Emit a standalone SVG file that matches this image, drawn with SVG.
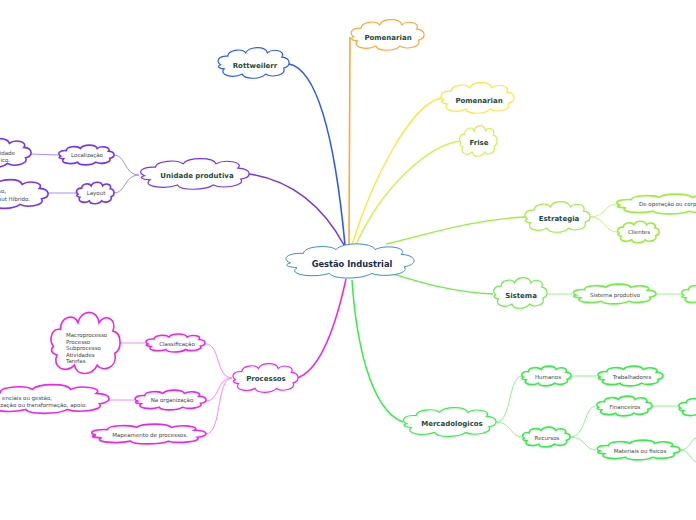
<svg xmlns="http://www.w3.org/2000/svg" xmlns:xlink="http://www.w3.org/1999/xlink" width="696" height="520" viewBox="0 0 696 520">
<style>
.t1{font-family:"DejaVu Sans",Verdana,sans-serif;font-weight:bold;font-size:7px;fill:#1d4a3c;text-anchor:middle}
.t0{font-family:"DejaVu Sans",Verdana,sans-serif;font-weight:bold;font-size:8.3px;fill:#1b2b4f;text-anchor:middle}
.t2{font-family:"DejaVu Sans",Verdana,sans-serif;font-size:5.5px;fill:#444;text-anchor:middle}
.tl{font-family:"DejaVu Sans",Verdana,sans-serif;font-size:5.5px;fill:#444}
.tr{font-family:"DejaVu Sans",Verdana,sans-serif;font-size:5.5px;fill:#444;text-anchor:end}
#conn path{fill:none}
</style>
<defs>
<path id="cl" vector-effect="non-scaling-stroke" fill="#fff" d="M-0.9,0.1 C-1.05,-0.1 -0.95,-0.45 -0.7,-0.4 C-0.7,-0.78 -0.3,-0.88 -0.2,-0.6 C-0.1,-1.0 0.35,-1.0 0.4,-0.6 C0.55,-0.88 0.92,-0.72 0.8,-0.35 C1.06,-0.3 1.06,0.2 0.85,0.3 C0.95,0.72 0.5,0.88 0.35,0.65 C0.2,0.98 -0.25,0.98 -0.3,0.65 C-0.55,0.92 -0.96,0.72 -0.8,0.35 C-0.97,0.3 -1.0,0.2 -0.9,0.1 Z"/>
</defs>
<rect width="696" height="520" fill="#fff"/>
<g id="conn">
<path d="M289,64 C320,70 336,150 345,245" stroke="#2a5cf5" stroke-width="1.6"/>
<path d="M350,37 L349,245" stroke="#ffa733" stroke-width="1.6"/>
<path d="M441,98 C410,105 372,180 352,245" stroke="#ffe53a" stroke-width="1.4"/>
<path d="M460,141 C430,145 382,185 355,247" stroke="#d2f04a" stroke-width="1.4"/>
<path d="M249,174 C290,180 322,205 344,245" stroke="#7733ee" stroke-width="1.5"/>
<path d="M525,217 C470,220 430,234 386,244" stroke="#9cee3a" stroke-width="1.4"/>
<path d="M493,294 C450,292 420,282 393,274" stroke="#6aee44" stroke-width="1.4"/>
<path d="M403,422 C370,410 356,340 352,280" stroke="#33ee44" stroke-width="1.5"/>
<path d="M297,378 C322,370 337,320 346,279" stroke="#ee22ee" stroke-width="1.5"/>
<g stroke="#aa8cff" stroke-width="1">
<path d="M139,175 C124,175 126,155 114,155"/>
<path d="M139,175 C124,175 126,193 114,193"/>
<path d="M58,155 L31,154"/>
<path d="M76,193 L48,193"/>
</g>
<g stroke="#f58af5" stroke-width="1">
<path d="M232,378 C216,378 220,344 206,344"/>
<path d="M232,378 C216,378 220,401 206,401"/>
<path d="M232,378 C216,378 222,434 206,434"/>
<path d="M145,343 L119,343"/>
<path d="M135,400 L109,400"/>
</g>
<g stroke="#c8f28c" stroke-width="1">
<path d="M590,217 C606,217 604,204 616,204"/>
<path d="M590,217 C606,217 604,232 617,232"/>
</g>
<g stroke="#a0f090" stroke-width="1">
<path d="M548,294 L572,294"/>
<path d="M655,294 L681,294"/>
</g>
<g stroke="#90f090" stroke-width="1">
<path d="M496,422 C512,422 508,376 522,376"/>
<path d="M496,422 C512,422 510,437 522,437"/>
<path d="M571,376 L597,376"/>
<path d="M570,437 C586,437 584,406 596,406"/>
<path d="M570,437 C586,437 584,450 596,450"/>
<path d="M651,406 L678,406"/>
<path d="M680,450 C690,450 690,440 696,438"/>
<path d="M680,450 C690,450 690,460 696,462"/>
</g>
</g>
<g id="n-center"><use xlink:href="#cl" transform="translate(349,261) scale(65,19)" stroke="#3b8ad0" stroke-width="1"/><text class="t0" x="352" y="267">Gestão Industrial</text></g>
<g id="n-rott"><use xlink:href="#cl" transform="translate(253,63) scale(36,17)" stroke="#2a5cf5" stroke-width="1.2"/><text class="t1" x="255" y="68">Rottweilerr</text></g>
<g id="n-pom1"><use xlink:href="#cl" transform="translate(387,35) scale(37,17)" stroke="#ffa733" stroke-width="1.2"/><text class="t1" x="388" y="40">Pomenarian</text></g>
<g id="n-pom2"><use xlink:href="#cl" transform="translate(477,98) scale(37,17)" stroke="#ffe53a" stroke-width="1.2"/><text class="t1" x="479" y="103">Pomenarian</text></g>
<g id="n-frise"><use xlink:href="#cl" transform="translate(478,141) scale(19,17)" stroke="#d2f04a" stroke-width="1.2"/><text class="t1" x="479" y="145">Frise</text></g>
<g id="n-unid"><use xlink:href="#cl" transform="translate(194,174) scale(55,17)" stroke="#7733ee" stroke-width="1.2"/><text class="t1" x="197" y="178">Unidade produtiva</text></g>
<g id="n-loc"><use xlink:href="#cl" transform="translate(86,155) scale(28,11)" stroke="#7733ee" stroke-width="1.6"/><text class="t2" x="87" y="157">Localização</text></g>
<g id="n-layout"><use xlink:href="#cl" transform="translate(95,193) scale(19,12)" stroke="#7733ee" stroke-width="1.6"/><text class="t2" x="96" y="195">Layout</text></g>
<g id="n-loc2"><use xlink:href="#cl" transform="translate(-5,153) scale(36,16)" stroke="#7733ee" stroke-width="1.6"/><text class="tr" x="15" y="155">idade</text><text class="tr" x="10" y="162">ico.</text></g>
<g id="n-lay2"><use xlink:href="#cl" transform="translate(5,194) scale(43,16)" stroke="#7733ee" stroke-width="1.6"/><text class="tr" x="6" y="193">so,</text><text class="tr" x="30" y="201">out Híbrido.</text></g>
<g id="n-proc"><use xlink:href="#cl" transform="translate(265,378) scale(33,16)" stroke="#ee22ee" stroke-width="1.2"/><text class="t1" x="266" y="381">Processos</text></g>
<g id="n-class"><use xlink:href="#cl" transform="translate(175,343) scale(30,10)" stroke="#ee22ee" stroke-width="1.6"/><text class="t2" x="177" y="346">Classificação</text></g>
<g id="n-macro"><use xlink:href="#cl" transform="translate(85,343) scale(35,34)" stroke="#ee22ee" stroke-width="1.6"/><text class="tl" x="66" y="337">Macroprocesso</text><text class="tl" x="66" y="343.5">Processo</text><text class="tl" x="66" y="350">Subprocesso</text><text class="tl" x="66" y="356.5">Atividades</text><text class="tl" x="66" y="363">Tarefas</text></g>
<g id="n-naorg"><use xlink:href="#cl" transform="translate(170,400) scale(36,11)" stroke="#ee22ee" stroke-width="1.6"/><text class="t2" x="172" y="402">Na organização</text></g>
<g id="n-naorg2"><use xlink:href="#cl" transform="translate(45,399) scale(64,16)" stroke="#ee22ee" stroke-width="1.6"/><text class="tr" x="52" y="400">enciais ou gestão,</text><text class="tr" x="87" y="407">zação ou transformação, apoio.</text></g>
<g id="n-map"><use xlink:href="#cl" transform="translate(148,434) scale(58,11)" stroke="#ee22ee" stroke-width="1.6"/><text class="t2" x="150" y="437">Mapeamento de processos.</text></g>
<g id="n-estr"><use xlink:href="#cl" transform="translate(557,217) scale(33,17)" stroke="#9cee3a" stroke-width="1.2"/><text class="t1" x="559" y="221">Estrategia</text></g>
<g id="n-deop"><use xlink:href="#cl" transform="translate(670,204) scale(55,11)" stroke="#9cee3a" stroke-width="1.6"/><text class="tl" x="639" y="206">De operação ou corp</text></g>
<g id="n-cli"><use xlink:href="#cl" transform="translate(638,232) scale(21,12)" stroke="#9cee3a" stroke-width="1.6"/><text class="t2" x="639" y="234">Clientes</text></g>
<g id="n-sist"><use xlink:href="#cl" transform="translate(520,293) scale(27,17)" stroke="#6aee44" stroke-width="1.2"/><text class="t1" x="521" y="298">Sistema</text></g>
<g id="n-sprod"><use xlink:href="#cl" transform="translate(614,294) scale(42,11)" stroke="#6aee44" stroke-width="1.6"/><text class="t2" x="615" y="297">Sistema produtivo</text></g>
<g id="n-sprod2"><use xlink:href="#cl" transform="translate(706,294) scale(25,11)" stroke="#6aee44" stroke-width="1.6"/></g>
<g id="n-merc"><use xlink:href="#cl" transform="translate(449,422) scale(47,16)" stroke="#33ee44" stroke-width="1.2"/><text class="t1" x="452" y="426">Mercadologicos</text></g>
<g id="n-hum"><use xlink:href="#cl" transform="translate(546,376) scale(25,11)" stroke="#33ee44" stroke-width="1.6"/><text class="t2" x="548" y="379">Humanos</text></g>
<g id="n-trab"><use xlink:href="#cl" transform="translate(630,376) scale(33,11)" stroke="#33ee44" stroke-width="1.6"/><text class="t2" x="632" y="379">Trabalhadores</text></g>
<g id="n-rec"><use xlink:href="#cl" transform="translate(546,437) scale(24,11)" stroke="#33ee44" stroke-width="1.6"/><text class="t2" x="547" y="440">Recursos</text></g>
<g id="n-fin"><use xlink:href="#cl" transform="translate(624,406) scale(28,11)" stroke="#33ee44" stroke-width="1.6"/><text class="t2" x="625" y="409">Financeiros</text></g>
<g id="n-fin2"><use xlink:href="#cl" transform="translate(706,407) scale(28,11)" stroke="#33ee44" stroke-width="1.6"/></g>
<g id="n-mat"><use xlink:href="#cl" transform="translate(638,450) scale(42,11)" stroke="#33ee44" stroke-width="1.6"/><text class="t2" x="640" y="453">Materiais ou fisicos</text></g>
</svg>
